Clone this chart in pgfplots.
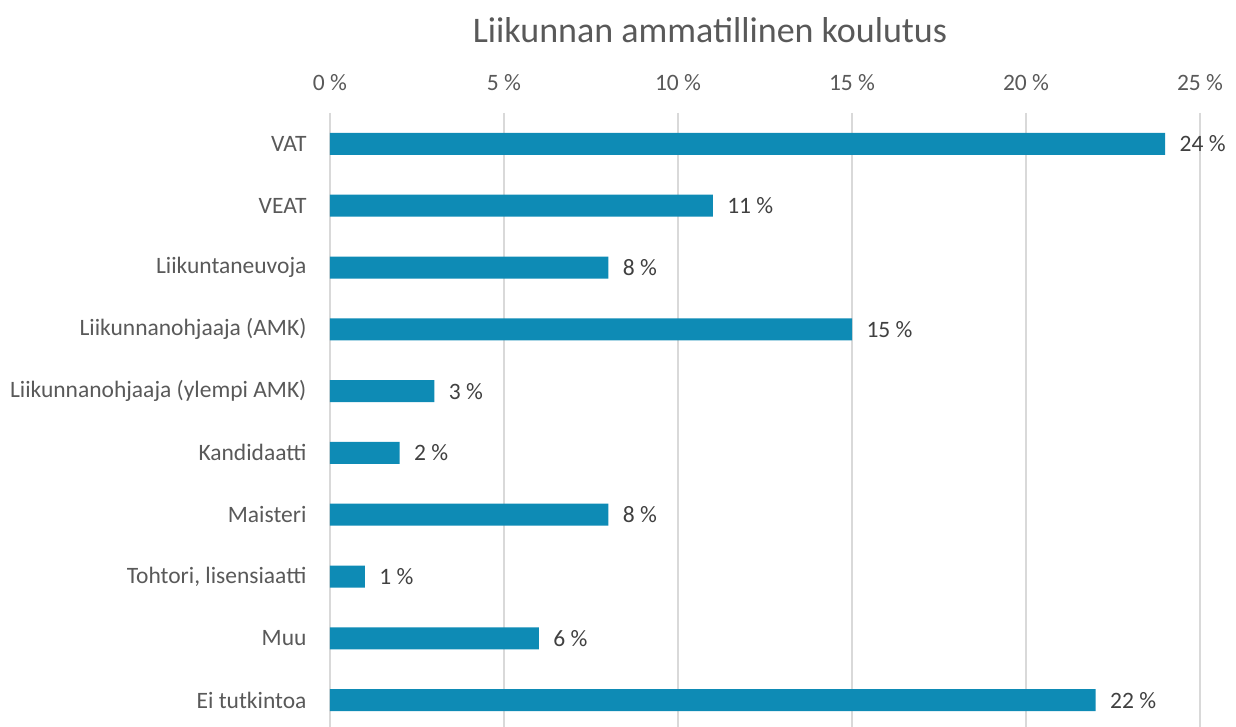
\documentclass[border=0pt]{standalone}
\usepackage{fontspec}
\setmainfont{Carlito}
\usepackage{pgfplots}
\pgfplotsset{compat=1.18}
\definecolor{barblue}{HTML}{0E8BB5}
\definecolor{gridgray}{HTML}{D9D9D9}
\definecolor{txtgray}{HTML}{595959}
\definecolor{valgray}{HTML}{404040}
\begin{document}
\begin{tikzpicture}
\useasboundingbox (-330pt,4pt) rectangle (906pt,731pt);
\begin{axis}[
  at={(0pt,0pt)}, anchor=south west,
  scale only axis,
  width=870pt, height=618pt,
  xbar, bar width=22pt,
  xmin=0, xmax=25,
  xtick={0,5,10,15,20,25},
  xticklabel pos=top,
  /pgf/number format/assume math mode=true,
  xticklabel={\pgfmathprintnumber{\tick}~\%},
  ymin=-0.5, ymax=9.5,
  y dir=reverse,
  ytick={0,...,9},
  yticklabels={VAT, VEAT, Liikuntaneuvoja, Liikunnanohjaaja (AMK),
    Liikunnanohjaaja (ylempi AMK), Kandidaatti, Maisteri,
    {Tohtori, lisensiaatti}, Muu, Ei tutkintoa},
  axis line style={draw=none},
  major tick length=0pt,
  xmajorgrids,
  grid style={gridgray, line width=1.5pt},
  tick label style={font=\fontsize{23.5}{28}\selectfont, text=txtgray},
  xticklabel style={anchor=base, yshift=22pt},
  yticklabel style={anchor=east, xshift=-20pt},
  nodes near coords={\pgfmathprintnumber{\pgfplotspointmeta}~\%},
  nodes near coords style={font=\fontsize{23.5}{28}\selectfont, text=valgray, anchor=west, xshift=11pt},
  point meta=x,
  clip=false,
]
\addplot[fill=barblue, draw=none] coordinates {
  (24,0) (11,1) (8,2) (15,3) (3,4) (2,5) (8,6) (1,7) (6,8) (22,9)
};
\end{axis}
\node[text=txtgray, font=\fontsize{36}{42}\selectfont] at (380pt,701pt) {Liikunnan ammatillinen koulutus};
\end{tikzpicture}
\end{document}
